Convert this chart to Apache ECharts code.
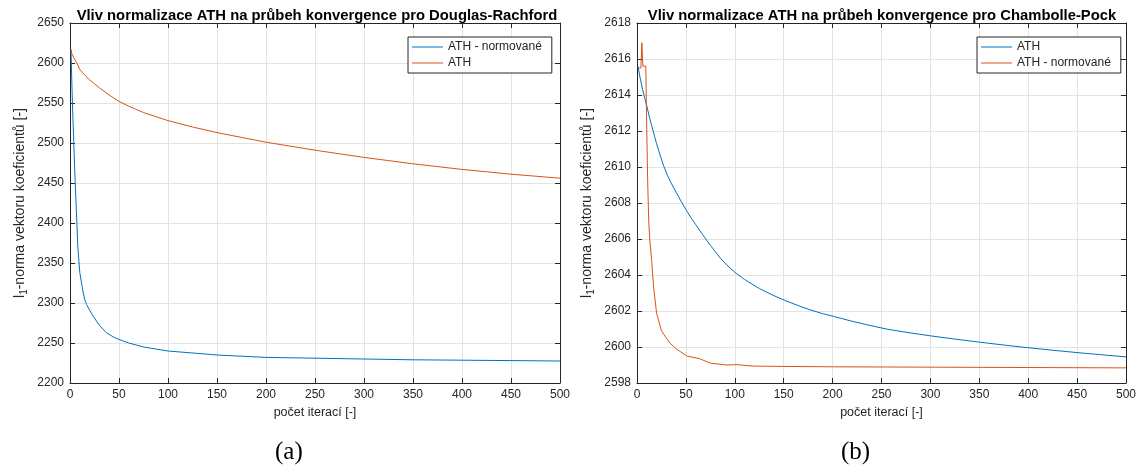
<!DOCTYPE html>
<html>
<head>
<meta charset="utf-8">
<script src="https://cdn.jsdelivr.net/npm/echarts@6/dist/echarts.min.js"></script>
<style>
  html, body { margin: 0; padding: 0; background: #fff; }
  #chart { width: 1148px; height: 472px; }
</style>
</head>
<body>
<div id="chart"></div>
<script>
// Douglas-Rachford: iterations and l1-norm values
const drIterNorm = [1, 2, 3, 4, 5, 6, 8, 10, 13, 15, 17, 20, 24, 30, 37, 45, 51, 60, 75, 100, 150, 200, 250, 300, 350, 400, 450, 500];
const drNorm = [2617, 2570, 2530, 2495, 2460, 2430, 2370, 2338, 2316, 2304, 2298, 2291, 2283, 2272, 2263, 2257, 2254, 2250, 2245, 2240, 2235, 2232, 2231, 2230, 2229, 2228.5, 2228, 2227.5];
const drIterAth = [1, 2, 5, 7, 10, 15, 20, 25, 30, 40, 50, 60, 75, 100, 125, 150, 175, 200, 225, 250, 275, 300, 325, 350, 375, 400, 425, 450, 475, 500];
const drAth = [2617, 2611, 2604, 2600, 2592, 2585, 2579, 2574, 2569, 2560, 2552, 2546, 2538, 2528, 2520, 2513, 2507, 2501, 2496, 2491, 2486.5, 2482, 2478, 2474, 2470.5, 2467, 2464, 2461, 2458.5, 2456];

// Chambolle-Pock: iterations and l1-norm values
const cpIterAth = [1, 3, 5, 8, 10, 13, 15, 18, 20, 24, 27, 31, 35, 40, 45, 51, 55, 60, 67, 75, 85, 92, 100, 110, 125, 140, 153, 165, 175, 190, 201, 220, 238, 255, 275, 300, 325, 350, 375, 400, 425, 450, 475, 500];
const cpAth = [2615.6, 2615.0, 2614.5, 2613.8, 2613.4, 2612.7, 2612.3, 2611.7, 2611.3, 2610.6, 2610.1, 2609.55, 2609.1, 2608.6, 2608.1, 2607.55, 2607.2, 2606.8, 2606.25, 2605.65, 2604.95, 2604.55, 2604.15, 2603.75, 2603.25, 2602.85, 2602.55, 2602.3, 2602.1, 2601.85, 2601.7, 2601.43, 2601.2, 2601.0, 2600.82, 2600.62, 2600.44, 2600.27, 2600.11, 2599.96, 2599.82, 2599.69, 2599.57, 2599.45];
const cpIterNorm = [1, 2, 3, 4, 5, 6, 7, 8, 9, 10, 11, 12, 13, 15, 17, 20, 25, 30, 34, 40, 51, 64, 75, 92, 102, 119, 150, 200, 300, 400, 500];
const cpNorm = [2615.5, 2615.4, 2615.6, 2615.5, 2616.9, 2615.6, 2615.5, 2615.6, 2615.6, 2612, 2609, 2607, 2606, 2604.8, 2603.3, 2601.9, 2600.9, 2600.5, 2600.2, 2599.9, 2599.5, 2599.35, 2599.1, 2599.0, 2599.02, 2598.94, 2598.92, 2598.9, 2598.88, 2598.86, 2598.84];

// Axis ranges and labels
const xRange = { min: 0, max: 500, interval: 50 };
const drYRange = { min: 2200, max: 2650, interval: 50 };
const cpYRange = { min: 2598, max: 2618, interval: 2 };
const titles = ['Vliv normalizace ATH na průbeh konvergence pro Douglas-Rachford', 'Vliv normalizace ATH na průbeh konvergence pro Chambolle-Pock'];
const xName = 'počet iterací [-]';
const captions = ['(a)', '(b)'];

const BLUE = '#0072BD', ORANGE = '#D95319', INK = '#262626', GRID = '#e3e3e3';
const FONT = 'Liberation Sans, Arial, sans-serif';

const pairs = (xs, ys) => xs.map((x, i) => [x, ys[i]]);
const plain = v => String(v);

function bottomAxis(g) {
  return {
    type: 'value', gridIndex: g, ...xRange, position: 'bottom',
    name: xName, nameLocation: 'middle', nameGap: 21,
    nameTextStyle: { color: INK, fontSize: 12.5, fontFamily: FONT },
    axisLine: { show: true, onZero: false, lineStyle: { color: INK, width: 1 } },
    axisTick: { show: true, inside: true, length: 5, lineStyle: { color: INK } },
    axisLabel: { color: INK, fontSize: 12, fontFamily: FONT, margin: 6, formatter: plain },
    splitLine: { show: true, lineStyle: { color: GRID, width: 1 } }
  };
}
function topAxis(g) {
  return {
    type: 'value', gridIndex: g, ...xRange, position: 'top',
    axisLine: { show: true, onZero: false, lineStyle: { color: INK, width: 1 } },
    axisTick: { show: true, inside: true, length: 5, lineStyle: { color: INK } },
    axisLabel: { show: false }, splitLine: { show: false }
  };
}
function leftAxis(g, range) {
  return {
    type: 'value', gridIndex: g, ...range, position: 'left',
    name: '{t|l}{s|1}{t|-norma vektoru koeficientů [-]}',
    nameLocation: 'middle', nameGap: 41, nameRotate: 90,
    nameTextStyle: {
      color: INK, fontFamily: FONT, fontSize: 14,
      rich: {
        t: { fontSize: 14, color: INK, fontFamily: FONT },
        s: { fontSize: 10, color: INK, fontFamily: FONT, padding: [8, 0, 0, 0] }
      }
    },
    axisLine: { show: true, onZero: false, lineStyle: { color: INK, width: 1 } },
    axisTick: { show: true, inside: true, length: 5, lineStyle: { color: INK } },
    axisLabel: { color: INK, fontSize: 12, fontFamily: FONT, margin: 6, formatter: plain },
    splitLine: { show: true, lineStyle: { color: GRID, width: 1 } }
  };
}
function rightAxis(g, range) {
  return {
    type: 'value', gridIndex: g, ...range, position: 'right',
    axisLine: { show: true, onZero: false, lineStyle: { color: INK, width: 1 } },
    axisTick: { show: true, inside: true, length: 5, lineStyle: { color: INK } },
    axisLabel: { show: false }, splitLine: { show: false }
  };
}
function line(name, color, xi, yi, data) {
  return {
    type: 'line', name, xAxisIndex: xi, yAxisIndex: yi, data,
    symbol: 'none', showSymbol: false, animation: false,
    lineStyle: { color, width: 1 }, itemStyle: { color }
  };
}
function legend(left, names) {
  return {
    orient: 'vertical', left, top: 37, data: names,
    icon: 'path://M0,0H31V1H0Z', symbolKeepAspect: true,
    padding: [4, 10, 4, 4], itemGap: 4, itemWidth: 31, itemHeight: 12,
    borderColor: INK, borderWidth: 1, backgroundColor: '#fff',
    textStyle: { color: INK, fontSize: 12, fontFamily: FONT },
    formatter: n => n.replace(/ \((DR|CP)\)$/, ''),
    selectedMode: false
  };
}

const chart = echarts.init(document.getElementById('chart'), null, { renderer: 'canvas' });
chart.setOption({
  backgroundColor: '#fff',
  animation: false,
  title: titles.map((t, i) => ({
    text: t, left: i === 0 ? 312 : 877, top: 3, textAlign: 'center',
    textStyle: { color: '#000', fontSize: 14.8, fontWeight: 'bold', fontFamily: FONT }
  })),
  grid: [
    { left: 70, top: 23, width: 490, height: 360 },
    { left: 637, top: 23, width: 489, height: 360 }
  ],
  xAxis: [bottomAxis(0), topAxis(0), bottomAxis(1), topAxis(1)],
  yAxis: [leftAxis(0, drYRange), rightAxis(0, drYRange), leftAxis(1, cpYRange), rightAxis(1, cpYRange)],
  legend: [
    legend(408, ['ATH - normované (DR)', 'ATH (DR)']),
    legend(977, ['ATH (CP)', 'ATH - normované (CP)'])
  ],
  series: [
    line('ATH - normované (DR)', BLUE, 0, 0, pairs(drIterNorm, drNorm)),
    line('ATH (DR)', ORANGE, 0, 0, pairs(drIterAth, drAth)),
    line('ATH (CP)', BLUE, 2, 2, pairs(cpIterAth, cpAth)),
    line('ATH - normované (CP)', ORANGE, 2, 2, pairs(cpIterNorm, cpNorm))
  ],
  graphic: captions.map((c, i) => ({
    type: 'text', left: i === 0 ? 275 : 841, top: 440,
    style: { text: c, fill: '#000', fontSize: 25, fontFamily: 'Liberation Serif, DejaVu Serif, serif' }
  }))
});
</script>
</body>
</html>
